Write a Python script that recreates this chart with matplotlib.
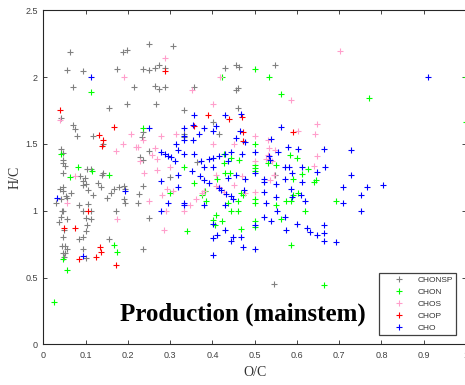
import matplotlib
matplotlib.use("Agg")
import matplotlib.pyplot as plt

# ---- data (O/C, H/C) ----
chonsp_oc = [0.063, 0.057, 0.071, 0.095, 0.188, 0.199, 0.175, 0.250, 0.308, 0.236,
             0.250, 0.265, 0.273, 0.288, 0.215, 0.265, 0.273, 0.288, 0.155, 0.199,
             0.267, 0.333, 0.043, 0.071, 0.076, 0.079, 0.118, 0.141, 0.236, 0.234,
             0.041, 0.047, 0.250, 0.229, 0.237, 0.047, 0.430, 0.455, 0.463, 0.547,
             0.357, 0.455, 0.461, 0.461, 0.401, 0.333, 0.333, 0.416, 0.364, 0.047,
             0.051, 0.047, 0.104, 0.114, 0.087, 0.098, 0.095, 0.142, 0.139, 0.130,
             0.137, 0.040, 0.047, 0.047, 0.065, 0.095, 0.100, 0.106, 0.117, 0.179,
             0.190, 0.193, 0.168, 0.161, 0.150, 0.054, 0.057, 0.041, 0.030, 0.190,
             0.194, 0.226, 0.223, 0.237, 0.084, 0.106, 0.047, 0.044, 0.095, 0.112,
             0.172, 0.038, 0.043, 0.057, 0.100, 0.112, 0.104, 0.250, 0.300, 0.049,
             0.047, 0.100, 0.095, 0.084, 0.156, 0.044, 0.051, 0.055, 0.047, 0.052,
             0.049, 0.095, 0.100, 0.237, 0.547, 0.545]
chonsp_hc = [2.190, 2.055, 1.926, 2.046, 2.190, 2.201, 2.061, 2.250, 2.231, 2.061,
             2.051, 2.066, 2.091, 2.070, 1.926, 1.936, 1.911, 1.926, 1.771, 1.796,
             1.796, 1.751, 1.692, 1.641, 1.612, 1.561, 1.561, 1.501, 1.587, 1.552,
             1.462, 1.432, 1.447, 1.402, 1.377, 1.382, 2.070, 2.091, 2.076, 2.091,
             1.926, 1.906, 1.921, 1.766, 1.662, 1.572, 1.552, 1.576, 1.362, 1.359,
             1.335, 1.280, 1.314, 1.310, 1.260, 1.245, 1.225, 1.280, 1.269, 1.210,
             1.180, 1.160, 1.180, 1.145, 1.135, 1.195, 1.200, 1.155, 1.115, 1.180,
             1.185, 1.160, 1.165, 1.130, 1.095, 1.110, 1.095, 1.085, 1.060, 1.090,
             1.060, 1.125, 1.055, 1.185, 1.040, 1.050, 0.996, 0.996, 0.996, 0.996,
             0.996, 0.915, 0.951, 0.936, 0.945, 0.940, 0.891, 0.945, 1.254, 0.855,
             0.805, 0.846, 0.805, 0.786, 0.786, 0.736, 0.736, 0.716, 0.681, 0.681,
             0.656, 0.711, 0.646, 0.711, 1.269, 0.451]

chon_oc = [0.112, 0.237, 0.041, 0.501, 0.422, 0.534, 0.563, 0.501, 0.428, 0.445,
           0.463, 0.583, 0.600, 0.771, 1.000, 1.000, 0.082, 0.063, 0.115, 0.155,
           0.300, 0.333, 0.168, 0.174, 0.047, 0.057, 0.025, 0.428, 0.430, 0.442,
           0.501, 0.500, 0.500, 0.531, 0.551, 0.357, 0.412, 0.382, 0.376, 0.384,
           0.438, 0.473, 0.468, 0.461, 0.500, 0.500, 0.551, 0.573, 0.585, 0.591,
           0.602, 0.445, 0.461, 0.618, 0.408, 0.401, 0.406, 0.423, 0.340, 0.468,
           0.500, 0.501, 0.563, 0.585, 0.626, 0.611, 0.646, 0.641, 0.665, 0.692,
           0.591]
chon_hc = [1.886, 1.617, 1.422, 2.061, 2.001, 2.001, 1.871, 1.501, 1.427, 1.392,
           1.382, 1.417, 1.397, 1.846, 2.001, 1.666, 1.329, 1.250, 1.299, 1.265,
           1.130, 1.329, 0.741, 0.691, 0.636, 0.556, 0.314, 1.359, 1.280, 1.280,
           1.344, 1.320, 1.299, 1.355, 1.344, 1.210, 1.235, 1.145, 1.120, 1.075,
           1.060, 1.120, 1.135, 1.070, 1.090, 1.055, 1.045, 1.070, 1.075, 1.120,
           1.130, 0.996, 0.996, 0.996, 0.966, 0.930, 0.891, 0.921, 0.846, 0.861,
           0.925, 0.880, 0.936, 0.746, 1.310, 1.275, 1.230, 1.215, 0.442, 1.075,
           1.237]

chos_oc = [0.288, 0.191, 0.040, 0.207, 0.236, 0.188, 0.172, 0.220, 0.224, 0.264,
           0.278, 0.314, 0.270, 0.256, 0.417, 0.352, 0.401, 0.585, 0.648, 0.643,
           0.602, 0.501, 0.531, 0.401, 0.450, 0.548, 0.648, 0.501, 0.531, 0.701,
           0.074, 0.057, 0.175, 0.239, 0.250, 0.270, 0.300, 0.292, 0.308, 0.280,
           0.291, 0.333, 0.286, 0.229, 0.409, 0.450, 0.409, 0.416, 0.381, 0.376,
           0.362, 0.348, 0.471, 0.502, 0.537, 0.545, 0.428, 0.477, 0.534, 0.640,
           0.540, 0.528]
chos_hc = [2.141, 2.001, 1.677, 1.576, 1.527, 1.501, 1.447, 1.477, 1.477, 1.472,
           1.557, 1.572, 1.387, 1.417, 2.001, 1.901, 1.796, 1.831, 1.647, 1.572,
           1.597, 1.557, 1.527, 1.501, 1.501, 1.452, 1.412, 1.372, 1.417, 2.195,
           1.260, 1.060, 0.936, 1.280, 1.075, 1.305, 1.329, 1.165, 1.145, 1.115,
           0.996, 0.996, 0.856, 1.370, 1.269, 1.195, 1.185, 1.175, 1.145, 1.135,
           1.090, 1.045, 1.260, 1.140, 1.230, 1.269, 1.140, 1.135, 1.467, 1.337,
           1.372, 1.387]

chop_oc = [0.288, 0.040, 0.168, 0.131, 0.142, 0.139, 0.389, 0.439, 0.471, 0.357,
           0.473, 0.473, 0.591, 0.106, 0.049, 0.074, 0.134, 0.137, 0.084, 0.125,
           0.171]
chop_hc = [2.046, 1.756, 1.627, 1.567, 1.527, 1.482, 1.716, 1.686, 1.701, 1.636,
           1.587, 1.522, 1.587, 0.996, 0.871, 0.871, 0.731, 0.691, 0.636, 0.651,
           0.596]

cho_oc = [0.112, 0.250, 0.333, 0.332, 0.332, 0.313, 0.318, 0.278, 0.288, 0.296,
          0.303, 0.311, 0.357, 0.430, 0.468, 0.563, 0.354, 0.381, 0.409, 0.402,
          0.368, 0.354, 0.455, 0.466, 0.477, 0.539, 0.580, 0.665, 0.333, 0.357,
          0.501, 0.556, 0.445, 0.416, 0.430, 0.392, 0.374, 0.438, 0.537, 0.909,
          0.728, 0.033, 0.193, 0.278, 0.319, 0.318, 0.295, 0.333, 0.333, 0.278,
          0.095, 0.381, 0.401, 0.351, 0.370, 0.381, 0.392, 0.438, 0.455, 0.477,
          0.416, 0.420, 0.433, 0.445, 0.449, 0.474, 0.381, 0.430, 0.523, 0.523,
          0.521, 0.550, 0.528, 0.551, 0.553, 0.523, 0.539, 0.572, 0.582, 0.589,
          0.572, 0.611, 0.611, 0.585, 0.610, 0.618, 0.572, 0.600, 0.573, 0.624,
          0.632, 0.648, 0.648, 0.665, 0.665, 0.665, 0.430, 0.412, 0.401, 0.449,
          0.444, 0.468, 0.473, 0.501, 0.401, 0.501, 0.401, 0.667, 0.728, 0.708,
          0.766, 0.803, 0.752, 0.708, 0.752, 0.692, 0.602, 0.469, 0.534, 0.500,
          0.589, 0.401]
cho_hc = [2.001, 1.621, 1.617, 1.561, 1.527, 1.497, 1.452, 1.442, 1.427, 1.412,
          1.402, 1.372, 1.716, 1.716, 1.726, 1.627, 1.641, 1.617, 1.632, 1.594,
          1.572, 1.527, 1.542, 1.597, 1.516, 1.537, 1.477, 1.462, 1.427, 1.427,
          1.442, 1.442, 1.442, 1.412, 1.427, 1.387, 1.372, 1.372, 1.382, 2.001,
          1.452, 1.095, 1.145, 1.220, 1.269, 1.180, 1.060, 1.060, 1.040, 0.996,
          0.661, 1.329, 1.329, 1.295, 1.260, 1.230, 1.210, 1.245, 1.269, 1.235,
          1.170, 1.155, 1.125, 1.110, 1.090, 1.155, 1.045, 1.045, 1.140, 1.240,
          1.215, 1.200, 1.055, 1.100, 0.996, 0.951, 0.921, 1.325, 1.325, 1.280,
          1.235, 1.329, 1.215, 1.165, 1.115, 1.075, 0.951, 0.900, 0.856, 0.871,
          0.841, 1.290, 0.820, 0.891, 0.831, 0.775, 0.856, 0.820, 0.796, 0.801,
          0.775, 0.801, 0.731, 0.711, 0.666, 0.895, 0.900, 1.329, 1.269, 1.175,
          1.175, 1.195, 1.120, 1.060, 0.996, 0.766, 1.462, 1.422, 1.407, 1.282,
          1.102, 1.397]

series = [
    ("CHONSP", chonsp_oc, chonsp_hc, "#808080"),
    ("CHON", chon_oc, chon_hc, "#00ff00"),
    ("CHOS", chos_oc, chos_hc, "#ff9ecb"),
    ("CHOP", chop_oc, chop_hc, "#ff0000"),
    ("CHO", cho_oc, cho_hc, "#0000ff"),
]

fig = plt.figure(figsize=(4.65, 3.85), dpi=100)
ax = fig.add_axes([43.3 / 465, 40.7 / 385, 422.7 / 465, 334 / 385])

for name, xs, ys, col in series:
    ax.plot(xs, ys, linestyle="none", marker="+", markersize=4.2,
            markeredgewidth=0.8, color=col, label=name, clip_on=False)

ax.set_xlim(0, 1)
ax.set_ylim(0, 2.5)
ax.set_xticks([i / 10 for i in range(11)])
ax.set_xticklabels(["0", "0.1", "0.2", "0.3", "0.4", "0.5", "0.6", "0.7", "0.8", "0.9", "1"])
ax.set_yticks([0, 0.5, 1, 1.5, 2, 2.5])
ax.set_yticklabels(["0", "0.5", "1", "1.5", "2", "2.5"])

ax.tick_params(direction="in", length=3, width=0.6, top=True, right=True,
               labelsize=6.5, labelcolor="#404040", color="#262626")
ax.tick_params(axis="x", pad=5)
ax.tick_params(axis="y", pad=4)
for lab in ax.get_xticklabels() + ax.get_yticklabels():
    lab.set_fontfamily("Liberation Sans")
for sp in ax.spines.values():
    sp.set_linewidth(0.8)
    sp.set_color("#262626")

ax.set_xlabel("O/C", fontfamily="Liberation Serif", fontsize=10, color="#333333", labelpad=4)
ax.set_ylabel("H/C", fontfamily="Liberation Serif", fontsize=10, color="#333333", labelpad=3)

ax.text(0.472, 0.0707, "Production (mainstem)", transform=ax.transAxes,
        ha="center", va="baseline", fontfamily="Liberation Serif",
        fontweight="bold", fontsize=18, color="black")

leg = ax.legend(loc="upper left", bbox_to_anchor=(0.795, 0.2126), borderaxespad=0,
                prop={"family": "Liberation Sans", "size": 6}, numpoints=1,
                handlelength=4.1, handletextpad=0.1, borderpad=0.35,
                labelspacing=0.5, fancybox=False, framealpha=1)
leg.get_frame().set_edgecolor("#404040")
leg.get_frame().set_linewidth(0.9)
for t in leg.get_texts():
    t.set_color("#333333")

fig.savefig("out.png", dpi=100)
